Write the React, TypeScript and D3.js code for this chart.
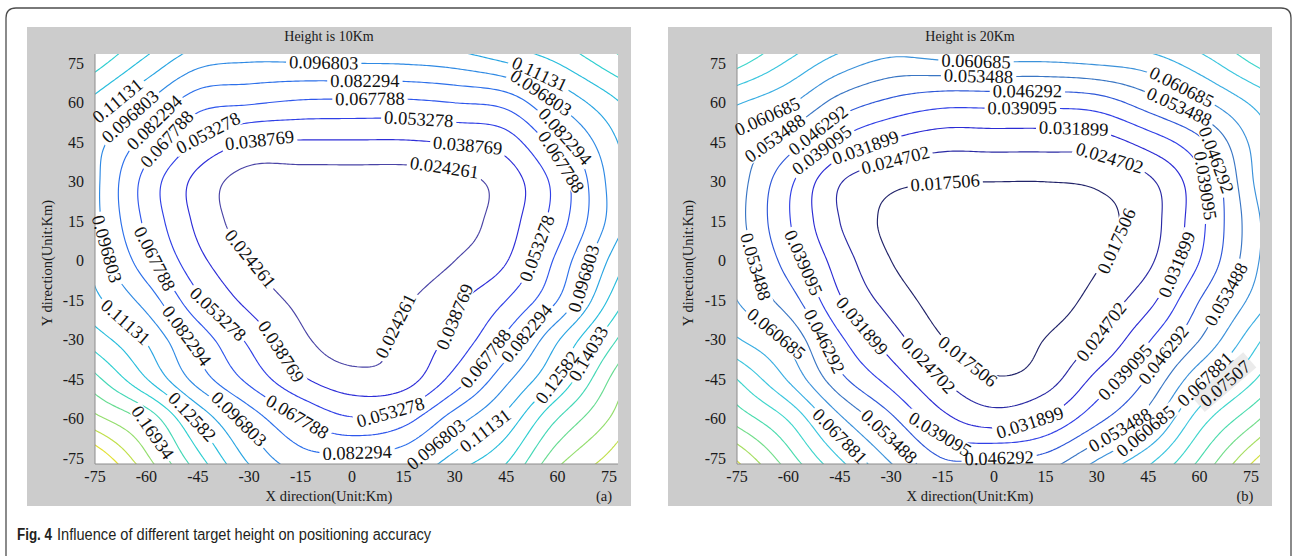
import React, { useMemo } from "react";
import * as d3 from "d3";

// Sampling nodes (km) of the positioning-error fields
const gridX = [-75, -60, -45, -30, -15, 0, 15, 30, 45, 60, 75];
const gridY = [75, 60, 45, 30, 15, 0, -15, -30, -45, -60, -75];

// Positioning error with the target at 10 km height (rows follow gridY, columns gridX)
const errorHeight10 = [
  [0.14613, 0.12147, 0.10043, 0.09608, 0.09608, 0.0968, 0.09753, 0.10116, 0.11059, 0.12582, 0.14613],
  [0.12074, 0.0968, 0.07359, 0.06924, 0.06561, 0.06488, 0.06488, 0.06779, 0.07286, 0.09825, 0.12074],
  [0.10261, 0.07693, 0.05183, 0.03848, 0.03732, 0.03732, 0.03732, 0.03993, 0.04602, 0.07504, 0.10609],
  [0.10043, 0.06271, 0.03442, 0.01773, 0.017, 0.017, 0.017, 0.01962, 0.03079, 0.05908, 0.09971],
  [0.10116, 0.06459, 0.03558, 0.017, 0.01338, 0.01193, 0.01265, 0.01773, 0.03224, 0.06053, 0.09971],
  [0.10696, 0.07359, 0.04312, 0.02498, 0.0141, 0.01048, 0.0141, 0.02426, 0.03804, 0.07142, 0.11276],
  [0.11494, 0.091, 0.0569, 0.03442, 0.02063, 0.01265, 0.02208, 0.03587, 0.05328, 0.0823, 0.12727],
  [0.13308, 0.10986, 0.07722, 0.05038, 0.02774, 0.01628, 0.02832, 0.04312, 0.07142, 0.10986, 0.14904],
  [0.15919, 0.12655, 0.091, 0.06416, 0.04124, 0.03006, 0.03224, 0.05908, 0.09318, 0.12727, 0.16935],
  [0.18821, 0.165, 0.12292, 0.091, 0.06779, 0.05473, 0.06198, 0.08955, 0.11567, 0.15484, 0.18386],
  [0.22593, 0.18676, 0.14468, 0.10841, 0.0881, 0.08665, 0.09173, 0.11567, 0.13743, 0.17805, 0.20127],
];

// Positioning error with the target at 20 km height
const errorHeight20 = [
  [0.08443, 0.074, 0.06428, 0.05853, 0.05925, 0.05997, 0.05997, 0.06141, 0.06393, 0.07148, 0.08227],
  [0.0686, 0.06177, 0.05061, 0.04449, 0.04126, 0.04126, 0.04126, 0.04269, 0.04989, 0.05853, 0.0686],
  [0.05925, 0.04989, 0.03766, 0.03082, 0.02744, 0.02758, 0.02758, 0.0283, 0.03478, 0.04449, 0.06177],
  [0.05709, 0.0409, 0.02521, 0.01931, 0.01772, 0.01751, 0.01751, 0.01859, 0.02326, 0.0373, 0.05961],
  [0.05637, 0.03974, 0.0247, 0.01571, 0.01319, 0.01283, 0.01355, 0.01571, 0.02146, 0.03694, 0.05709],
  [0.05853, 0.04327, 0.02852, 0.01751, 0.01247, 0.01103, 0.01283, 0.01679, 0.02326, 0.0391, 0.05781],
  [0.06069, 0.04989, 0.03276, 0.02182, 0.01427, 0.01139, 0.01391, 0.02003, 0.02952, 0.04629, 0.06212],
  [0.0686, 0.05925, 0.04053, 0.02809, 0.01787, 0.01319, 0.01772, 0.02506, 0.03838, 0.05349, 0.07148],
  [0.08227, 0.06716, 0.04845, 0.03636, 0.0247, 0.01823, 0.02146, 0.03406, 0.04701, 0.06608, 0.08084],
  [0.09379, 0.08155, 0.06212, 0.04773, 0.03406, 0.0283, 0.03262, 0.04413, 0.05709, 0.07868, 0.09379],
  [0.10998, 0.09235, 0.07508, 0.05925, 0.04629, 0.04629, 0.04845, 0.05997, 0.0722, 0.08947, 0.1089],
];

const levels10 = [0.024261, 0.038769, 0.053278, 0.067788, 0.082294, 0.096803, 0.11131, 0.12582, 0.14033, 0.15484, 0.16934, 0.18385, 0.19836, 0.21287];
const levelText10 = ["0.024261", "0.038769", "0.053278", "0.067788", "0.082294", "0.096803", "0.11131", "0.12582", "0.14033", "0.15484", "0.16934", "0.18385", "0.19836", "0.21287"];
const levels20 = [0.017506, 0.024702, 0.031899, 0.039095, 0.046292, 0.053488, 0.060685, 0.067881, 0.075077, 0.082274, 0.08947, 0.096667, 0.10386, 0.11106];
const levelText20 = ["0.017506", "0.024702", "0.031899", "0.039095", "0.046292", "0.053488", "0.060685", "0.067881", "0.07507", "0.082274", "0.08947", "0.096667", "0.10386", "0.11106"];

const lineColors10 = ["#4a44a6", "#2e2ed8", "#3040e6", "#2f57ec", "#2d70ea", "#2f8ae4", "#2aa5e2", "#28bddc", "#2fcfd0", "#46d8b6", "#68dc92", "#94de6e", "#c0df4a", "#e2e032"];
const lineColors20 = ["#22246a", "#2a2aa4", "#2c2cd4", "#3140e6", "#2f58d8", "#3a76c4", "#3c92da", "#3aaee2", "#3cc6de", "#40d6cc", "#4cdcae", "#74de8c", "#a6de62", "#d2e040"];

// Inline contour labels: [level index, x km, y km, light backdrop flag]
const labelSpots10 = [
  [0, 26.4, 33.1], [0, -28.8, 1.4], [0, 14, -25.3],
  [1, -27.3, 45.2], [1, 33.5, 41.4], [1, -20.5, -34.1], [1, 28.8, -20.8],
  [2, -41.7, 47.7], [2, 19.8, 53.7], [2, 50.5, 6.5], [2, -39.5, -20.8], [2, 10.6, -54.4],
  [3, 5.5, 61.3], [3, -53.9, 45.8], [3, 60, 37], [3, -56, 2], [3, -16.1, -59.5], [3, 37.1, -35.4],
  [4, 3.5, 68.4], [4, -57.3, 52.5], [4, 61.5, 46.8], [4, -49.2, -29.7], [4, 50.7, -27.2], [4, 1.6, -72.8],
  [5, -8.2, 74.7], [5, -64.8, 54.7], [5, 54.5, 62.8], [5, -70.1, 5.2], [5, 65.6, -5.6], [5, -33.9, -61.4], [5, 24.2, -69],
  [6, -67.7, 59.5], [6, 54.5, 70.8], [6, -65.3, -22.1], [6, 38.3, -63.6],
  [7, -47.3, -59.5], [7, 58.5, -43],
  [8, 67.2, -34.1],
  [10, -59.2, -65.9],
];
const labelSpots20 = [
  [0, -14.5, 29.3], [0, 34.1, 8.4], [0, -5.8, -34.8],
  [1, -28.9, 37.8], [1, 33.3, 38.8], [1, -19, -39.8], [1, 31.2, -27.2],
  [2, 23.6, 49.6], [2, -37.9, 43.7], [2, 52.6, -1.1], [2, -38.2, -24.6], [2, 10.9, -61.7],
  [3, 8, 58.2], [3, -50.3, 43], [3, 60.4, 28], [3, -56.6, -1.1], [3, 38.5, -42.4], [3, -15.5, -64.6],
  [4, 9.8, 64.2], [4, -51.8, 50], [4, 63.3, 37.6], [4, -50.3, -31], [4, 50.1, -36], [4, 1.7, -75],
  [5, -4.6, 69.9], [5, -64, 46.8], [5, 54.5, 58.9], [5, -68.5, -2], [5, 67.2, -11.9], [5, 36.7, -64], [5, -31.1, -67.8],
  [6, -5.1, 75.6], [6, -65.9, 54.1], [6, 55, 65.9], [6, -63.5, -27.8], [6, 43.6, -64],
  [7, 62.5, -46.2], [7, -45.2, -66.5],
  [8, 67.4, -46.8, 1],
];

const axisTicks = [-75, -60, -45, -30, -15, 0, 15, 30, 45, 60, 75];

const SERIF = "'Liberation Serif', 'Times New Roman', Times, serif";
const SANS = "'Liberation Sans', Arial, sans-serif";
const LABEL_SIZE = 18.5;

type PanelSpec = {
  id: string;
  field: number[][];
  levels: number[];
  texts: string[];
  colors: string[];
  spots: number[][];
  title: string;
  tag: string;
  boxLeft: number;
  plotLeft: number;
};

const panels: PanelSpec[] = [
  { id: "a", field: errorHeight10, levels: levels10, texts: levelText10, colors: lineColors10, spots: labelSpots10, title: "Height is 10Km", tag: "(a)", boxLeft: 27, plotLeft: 95 },
  { id: "b", field: errorHeight20, levels: levels20, texts: levelText20, colors: lineColors20, spots: labelSpots20, title: "Height is 20Km", tag: "(b)", boxLeft: 668, plotLeft: 737 },
];

// Catmull-Rom cubic through four samples
function cr(p0: number, p1: number, p2: number, p3: number, t: number) {
  return p1 + 0.5 * t * (p2 - p0 + t * (2 * p0 - 5 * p1 + 4 * p2 - p3 + t * (3 * (p1 - p2) + p3 - p0)));
}

// Pads the node table with one linearly continued ring so the spline has neighbours at the edges
function padTable(f: number[][]) {
  const nr = f.length;
  const nc = f[0].length;
  const rows = f.map((r) => [2 * r[0] - r[1], ...r, 2 * r[nc - 1] - r[nc - 2]]);
  const top = rows[0].map((v, i) => 2 * v - rows[1][i]);
  const bottom = rows[nr - 1].map((v, i) => 2 * v - rows[nr - 2][i]);
  return [top, ...rows, bottom];
}

function bicubic(ext: number[][], nr: number, nc: number, u: number, v: number) {
  const i = Math.min(Math.max(Math.floor(u), 0), nc - 2);
  const j = Math.min(Math.max(Math.floor(v), 0), nr - 2);
  const tx = u - i;
  const ty = v - j;
  const col = [0, 1, 2, 3].map((k) => {
    const row = ext[j + k];
    return cr(row[i], row[i + 1], row[i + 2], row[i + 3], tx);
  });
  return cr(col[0], col[1], col[2], col[3], ty);
}

function textWidth(s: string, size: number) {
  let w = 0;
  for (const ch of s) w += ch === "." ? 0.25 : 0.5;
  return w * size;
}

type PlacedLabel = { px: number; py: number; ang: number; text: string; w: number; shaded: boolean };

function ContourPanel({ spec }: { spec: PanelSpec }) {
  const plotTop = 54;
  const plotBottom = 464;
  const plotLeft = spec.plotLeft;
  const plotRight = plotLeft + 523;
  const x = d3.scaleLinear().domain([-75, 75]).range([plotLeft, plotLeft + 514]);
  const y = d3.scaleLinear().domain([-75, 75]).range([458.3, 63.3]);

  const { rings, labels } = useMemo(() => {
    const nr = gridY.length;
    const nc = gridX.length;
    const ext = padTable(spec.field);
    const span = 81;
    const step = 0.75;
    const n = Math.round((2 * span) / step) + 1;
    const values = new Array(n * n);
    for (let j = 0; j < n; j++) {
      const yy = span - j * step;
      const v = (gridY[0] - yy) / (gridY[0] - gridY[1]);
      for (let i = 0; i < n; i++) {
        const xx = -span + i * step;
        const u = (xx - gridX[0]) / (gridX[1] - gridX[0]);
        values[j * n + i] = bicubic(ext, nr, nc, u, v);
      }
    }
    const polys = d3.contours().size([n, n]).thresholds(spec.levels)(values);
    const ringsByLevel: [number, number][][][] = polys.map((mp) => {
      const out: [number, number][][] = [];
      mp.coordinates.forEach((poly) =>
        poly.forEach((ring) => {
          out.push(ring.map(([cx, cy]) => [x(-span + (cx - 0.5) * step), y(span - (cy - 0.5) * step)] as [number, number]));
        })
      );
      return out;
    });

    const placed: PlacedLabel[] = [];
    spec.spots.forEach(([li, lx, ly, shade]) => {
      const ax = x(lx);
      const ay = y(ly);
      let best: [number, number] | null = null;
      let bd = Infinity;
      ringsByLevel[li].forEach((ring, ri) =>
        ring.forEach((p, pi) => {
          if (p[0] < plotLeft + 3 || p[0] > plotRight - 3 || p[1] < plotTop + 3 || p[1] > plotBottom - 3) return;
          const d = (p[0] - ax) ** 2 + (p[1] - ay) ** 2;
          if (d < bd) {
            bd = d;
            best = [ri, pi];
          }
        })
      );
      if (!best || bd > 45 * 45) return;
      const ring = ringsByLevel[li][best[0]];
      const m = ring.length - 1;
      const k = best[1];
      const a = ring[(k - 4 + m * 4) % m];
      const b = ring[(k + 4) % m];
      let ang = (Math.atan2(b[1] - a[1], b[0] - a[0]) * 180) / Math.PI;
      if (ang > 90) ang -= 180;
      if (ang < -90) ang += 180;
      const text = spec.texts[li];
      placed.push({ px: ring[k][0], py: ring[k][1], ang, text, w: textWidth(text, LABEL_SIZE), shaded: shade === 1 });
    });
    return { rings: ringsByLevel, labels: placed };
  }, [spec]);

  const line = d3.line();
  const clipId = `plotClip-${spec.id}`;
  const maskId = `labelGap-${spec.id}`;
  const boxCenter = spec.boxLeft + 302;

  return (
    <g>
      <rect x={spec.boxLeft} y={27} width={604} height={479} fill="#cccccc" />
      <rect x={plotLeft} y={plotTop} width={plotRight - plotLeft} height={plotBottom - plotTop} fill="#ffffff" />
      <defs>
        <clipPath id={clipId}>
          <rect x={plotLeft} y={plotTop} width={plotRight - plotLeft} height={plotBottom - plotTop} />
        </clipPath>
        <mask id={maskId} maskUnits="userSpaceOnUse" x={0} y={0} width={1292} height={556}>
          <rect x={0} y={0} width={1292} height={556} fill="#ffffff" />
          {labels.map((l, i) => (
            <rect
              key={i}
              x={-l.w / 2 - 3}
              y={-7.5}
              width={l.w + 6}
              height={15}
              fill="#000000"
              transform={`translate(${l.px},${l.py}) rotate(${l.ang})`}
            />
          ))}
        </mask>
      </defs>
      {labels
        .filter((l) => l.shaded)
        .map((l, i) => (
          <rect
            key={`bg${i}`}
            x={-l.w / 2 - 4}
            y={-12}
            width={l.w + 8}
            height={20}
            fill="#ebebeb"
            transform={`translate(${l.px},${l.py}) rotate(${l.ang})`}
          />
        ))}
      <g clipPath={`url(#${clipId})`}>
        <g mask={`url(#${maskId})`}>
          {rings.map((lvl, li) => (
            <path
              key={li}
              d={lvl.map((r) => line(r) || "").join("")}
              fill="none"
              stroke={spec.colors[li]}
              strokeWidth={1.15}
              strokeLinejoin="round"
            />
          ))}
        </g>
      </g>
      <line x1={plotLeft} y1={plotTop} x2={plotLeft} y2={plotBottom} stroke="#8c8c8c" strokeWidth={1} />
      <line x1={plotLeft} y1={plotBottom} x2={plotRight} y2={plotBottom} stroke="#8c8c8c" strokeWidth={1} />
      {labels.map((l, i) => (
        <text
          key={i}
          transform={`translate(${l.px},${l.py}) rotate(${l.ang})`}
          textAnchor="middle"
          dy="0.33em"
          fontFamily={SERIF}
          fontSize={LABEL_SIZE}
          fill="#111111"
        >
          {l.text}
        </text>
      ))}
      {axisTicks.map((t) => (
        <text key={`y${t}`} x={plotLeft - 11} y={y(t)} dy="0.34em" textAnchor="end" fontFamily={SERIF} fontSize={16} fill="#1a1a1a">
          {String(t)}
        </text>
      ))}
      {axisTicks.map((t) => (
        <text key={`x${t}`} x={x(t)} y={481.5} textAnchor="middle" fontFamily={SERIF} fontSize={16} fill="#1a1a1a">
          {String(t)}
        </text>
      ))}
      <text x={boxCenter} y={41} textAnchor="middle" fontFamily={SERIF} fontSize={14} fill="#1a1a1a">
        {spec.title}
      </text>
      <text x={boxCenter} y={501} textAnchor="middle" fontFamily={SERIF} fontSize={14.5} fill="#1a1a1a">
        X direction(Unit:Km)
      </text>
      <text x={spec.boxLeft + 577} y={501} textAnchor="middle" fontFamily={SERIF} fontSize={14.5} fill="#1a1a1a">
        {spec.tag}
      </text>
      <text
        transform={`translate(${spec.boxLeft + 25},263) rotate(-90)`}
        textAnchor="middle"
        fontFamily={SERIF}
        fontSize={14.5}
        fill="#1a1a1a"
      >
        Y direction(Unit:Km)
      </text>
    </g>
  );
}

export default function App() {
  return (
    <svg width={1292} height={556} viewBox="0 0 1292 556" style={{ position: "absolute", left: 0, top: 0, display: "block" }}>
      <rect x={0} y={0} width={1292} height={556} fill="#ffffff" />
      <path d="M6,560 L6,18 Q6,8 16,8 L1281,8 Q1291,8 1291,18 L1291,560" fill="none" stroke="#4d4d4d" strokeWidth={1.3} />
      {panels.map((p) => (
        <ContourPanel key={p.id} spec={p} />
      ))}
      <g transform="translate(17,539.5) scale(0.79,1)">
        <text x={0} y={0} fontFamily={SANS} fontWeight="bold" fontSize={17} fill="#231f20">
          Fig. 4
        </text>
      </g>
      <g transform="translate(57,539.5) scale(0.86,1)">
        <text x={0} y={0} fontFamily={SANS} fontSize={17} fill="#231f20">
          Influence of different target height on positioning accuracy
        </text>
      </g>
    </svg>
  );
}
